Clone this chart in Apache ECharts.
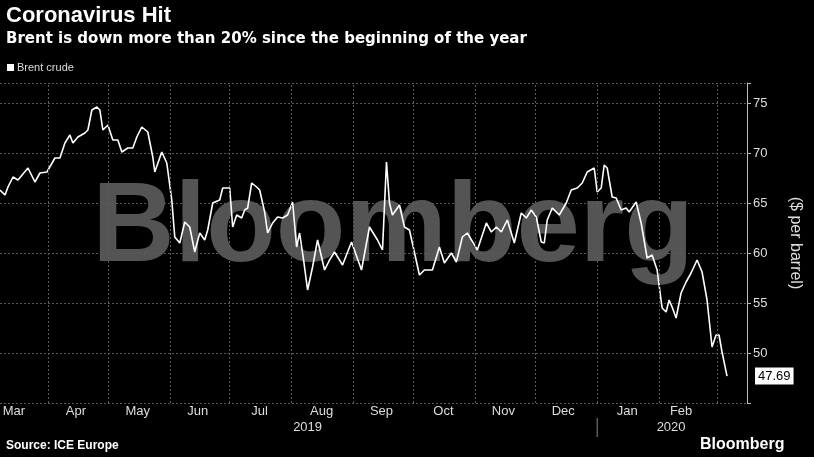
<!DOCTYPE html>
<html>
<head>
<meta charset="utf-8">
<script src="https://cdn.jsdelivr.net/npm/echarts@6/dist/echarts.min.js"></script>
<style>html,body{margin:0;background:#000;}#chart{width:814px;height:457px;}</style>
</head>
<body>
<div id="chart"></div>
<script>
// days since 2019-03-08
let days=[0,2.5,4,6.5,9,14,17.5,20,23.5,27.5,30,32.5,35,36.5,39,42.5,44,46,48.5,50,51.5,54,56.5,59,61,64,66.5,68.5,71,74,76.5,77.5,81,83.5,86,87.5,90,92.5,95,97.5,100,102.5,104,106.5,110,111.5,115,116.5,118.5,121,122.5,124,126,128.5,130,132.5,134,136.5,139,141.5,144,146.5,148.5,150,152,154,156.5,159,162.5,165,167.5,171.5,176,181,183.5,185,189,191.5,193.5,195,196.5,200,202.5,205,210,212.5,216.5,220,222.5,226,228.5,231.5,234,239,243.5,246,248.5,251,254,257.5,261,263.5,266,268.5,271,272.5,274,276.5,280,283.5,286,289,291.5,294,297.5,299,301,302.5,304,306.5,308.5,311,313.5,315,318.5,321,324,326.5,329,331.5,333.5,335,336.5,338.5,341,343.5,346,349,351.5,354,356.5,358.5,360,361.5,364,365];
let brent=[66.3,65.8,66.6,67.6,67.3,68.5,67.1,68.0,68.1,69.5,69.5,71.0,71.8,71.0,71.6,72.0,72.3,74.3,74.6,74.3,72.3,72.8,71.3,71.3,70.1,70.5,70.5,71.6,72.6,72.1,69.6,68.1,70.1,69.0,65.3,61.6,61.0,63.1,62.6,60.1,62.0,61.3,62.3,65.0,65.3,66.5,66.5,62.6,63.8,63.5,64.3,64.5,67.0,66.6,66.3,64.1,62.0,63.0,63.6,63.5,63.8,65.1,60.6,62.0,59.3,56.3,58.6,61.3,58.3,59.3,60.1,58.8,61.1,58.3,61.0,62.6,61.3,60.3,69.1,65.0,63.8,64.8,62.6,62.3,57.8,58.3,58.3,60.6,59.0,60.0,59.1,61.6,62.0,60.3,63.0,62.1,62.6,62.1,63.3,61.0,64.0,63.5,64.3,63.6,61.1,61.0,63.3,64.5,63.8,65.0,66.3,66.5,67.0,68.1,68.5,66.1,66.5,68.8,68.5,65.6,65.5,64.3,64.5,64.1,65.1,63.0,59.5,59.8,58.3,54.5,54.1,55.3,54.6,53.5,56.0,57.1,58.0,59.3,58.1,55.3,50.6,51.8,51.8,50.1,47.69];
let monthStarts=['2019-04-01','2019-05-01','2019-06-01','2019-07-01','2019-08-01','2019-09-01','2019-10-01','2019-11-01','2019-12-01','2020-01-01','2020-02-01','2020-03-01'];
let monthLabels=['Mar','Apr','May','Jun','Jul','Aug','Sep','Oct','Nov','Dec','Jan','Feb'];
let monthMids=['2019-03-15','2019-04-15','2019-05-16','2019-06-15','2019-07-16','2019-08-16','2019-09-15','2019-10-16','2019-11-15','2019-12-15','2020-01-16','2020-02-12'];
let yearLabels=['2019','2020'];
let yearMids=['2019-08-09','2020-02-07'];

let startMs=Date.UTC(2019,2,8);
let series=days.map((d,i)=>[startMs+d*86400000,brent[i]]);
let chart=echarts.init(document.getElementById('chart'));
let gridCol='#5a5a5a';
chart.setOption({
    backgroundColor:'#000',
    animation:false,
    textStyle:{fontFamily:'Liberation Sans'},
    grid:{left:0,right:67,top:83,bottom:54},
    xAxis:{type:'time',min:startMs,max:Date.UTC(2020,2,16),
        axisLine:{show:false},axisTick:{show:false},axisLabel:{show:false},splitLine:{show:false}},
    yAxis:{type:'value',position:'right',min:45,max:77,interval:5,
        axisLine:{show:true,lineStyle:{color:'#bbb'}},
        axisTick:{show:true,length:4,lineStyle:{color:'#bbb'}},
        axisLabel:{color:'#ddd',fontSize:13,margin:6,formatter:v=>(v>=50&&v<=75)?v:''},
        splitLine:{show:true,lineStyle:{color:gridCol,type:[2,2]}},
        name:'($ per barrel)',nameLocation:'middle',nameRotate:-90,nameGap:40,
        nameTextStyle:{color:'#ddd',fontSize:16}},
    series:[{type:'line',data:series,showSymbol:false,
        lineStyle:{color:'#fff',width:1.6},
        markLine:{symbol:'none',silent:true,label:{show:false},
            lineStyle:{color:gridCol,type:[2,2],width:1},
            data:monthStarts.map(m=>({xAxis:new Date(m+'T00:00:00Z').getTime()}))},
        endLabel:{show:true,formatter:'47.69',backgroundColor:'#fff',color:'#000',
            fontSize:13,padding:[2,3],offset:[20,0]}
    }]
});
let ms=s=>new Date(s+'T00:00:00Z').getTime();
let g=[
    {type:'text',left:6,top:5,style:{text:'Coronavirus Hit',fill:'#fff',font:'bold 22px Liberation Sans'}},
    {type:'text',left:6,top:32,style:{text:'Brent is down more than 20% since the beginning of the year',fill:'#fff',font:'bold 15px DejaVu Sans'}},
    {type:'rect',shape:{x:7,y:64,width:7,height:7},style:{fill:'#fff'}},
    {type:'text',left:17,top:62,style:{text:'Brent crude',fill:'#ddd',font:'11px Liberation Sans'}},
    {type:'text',left:6,top:440,style:{text:'Source: ICE Europe',fill:'#fff',font:'bold 12px Liberation Sans'}},
    {type:'text',left:700,top:437,style:{text:'Bloomberg',fill:'#fff',font:'bold 16px Liberation Sans'}},
    {type:'text',x:393,y:230,z:-1,style:{text:'Bloomberg',fill:'rgba(140,140,140,0.6)',font:'bold 114px Liberation Sans',align:'center',verticalAlign:'middle'}}
];
monthLabels.forEach((t,i)=>{
    let x=chart.convertToPixel({xAxisIndex:0},ms(monthMids[i]));
    g.push({type:'text',x:x,y:405,style:{text:t,fill:'#ddd',font:'13px Liberation Sans',align:'center'}});
});
yearLabels.forEach((t,i)=>{
    let x=chart.convertToPixel({xAxisIndex:0},ms(yearMids[i]));
    g.push({type:'text',x:x,y:421,style:{text:t,fill:'#ddd',font:'13px Liberation Sans',align:'center'}});
});
let xj=chart.convertToPixel({xAxisIndex:0},ms('2020-01-01'));
g.push({type:'line',shape:{x1:xj,y1:418,x2:xj,y2:437},style:{stroke:'#888',lineWidth:1}});
chart.setOption({graphic:g});
</script>
</body>
</html>
